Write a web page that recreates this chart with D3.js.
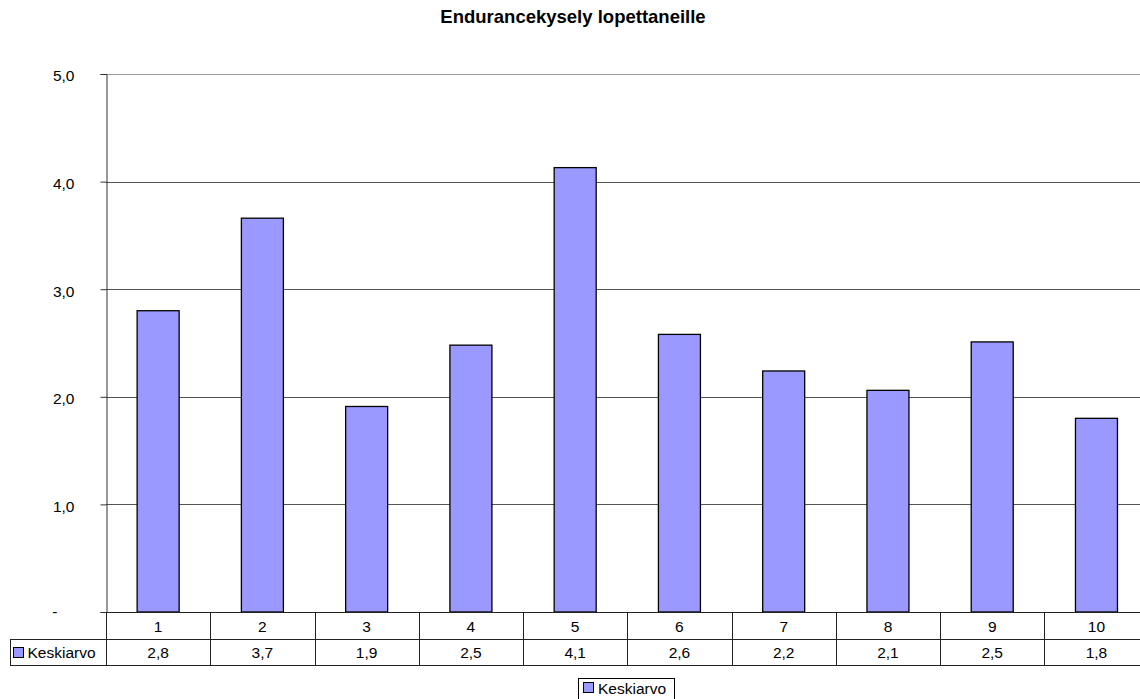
<!DOCTYPE html>
<html><head><meta charset="utf-8">
<script src="https://cdn.jsdelivr.net/npm/d3@7"></script>
<style>body{margin:0;background:#fff;}svg{display:block;font-family:"Liberation Sans",Arial,sans-serif;}</style>
</head><body>
<svg id="c" width="1140" height="699"></svg>
<script>
const title = "Endurancekysely lopettaneille";
const categories = ["1","2","3","4","5","6","7","8","9","10"];
const seriesName = "Keskiarvo";
const values = [2.8, 3.66, 1.91, 2.48, 4.13, 2.58, 2.24, 2.06, 2.51, 1.80];
const yTicks = [0, 1, 2, 3, 4, 5];

(function () {
const svg = d3.select("#c");
const FS = 15.5;
const pL = 106, pR = 1148.6, pT = 74, pB = 612;
const x = d3.scaleBand().domain(categories).range([pL, pR]).paddingInner(0).paddingOuter(0);
const y = d3.scaleLinear().domain([0, 5]).range([pB, pT]);
const fmt = v => v === 0 ? "-" : d3.format(".1f")(v).replace(".", ",");

svg.append("text").attr("x", 573).attr("y", 23).attr("text-anchor", "middle")
  .attr("font-size", 18.5).attr("font-weight", "bold").text(title);

// gridlines
svg.append("g").selectAll("line").data(yTicks.filter(d => d > 0)).join("line")
  .attr("x1", pL).attr("x2", pR).attr("y1", d => Math.round(y(d)) + 0.5).attr("y2", d => Math.round(y(d)) + 0.5)
  .attr("stroke", d => d === 5 ? "#999" : "#555").attr("stroke-width", 1);

// y axis
const yAxis = d3.axisLeft(y).tickValues(yTicks).tickSize(6).tickFormat(fmt);
const gy = svg.append("g").attr("transform", `translate(${pL + 0.5},0)`).call(yAxis);
gy.attr("font-size", FS).attr("font-family", "Liberation Sans, Arial, sans-serif");
gy.select(".domain").attr("stroke", "#333");
gy.selectAll(".tick line").attr("stroke", "#333");
gy.selectAll(".tick text").attr("fill", "#000").attr("x", -32).attr("dy", "0.45em");
gy.selectAll(".tick").filter(d => d === 0).select("text").attr("x", -49).attr("dy", "0.3em");

// bars
const bw = 42;
svg.append("g").selectAll("rect").data(values).join("rect")
  .attr("x", (d, i) => x(categories[i]) + x.bandwidth() / 2 - bw / 2)
  .attr("y", d => y(d)).attr("width", bw).attr("height", d => y(0) - y(d))
  .attr("fill", "#9999FF").attr("stroke", "#000").attr("stroke-width", 1.3);

// table
const r1 = pB, r2 = 639, r3 = 665, tl = 10;
const tg = svg.append("g").attr("stroke", "#222").attr("stroke-width", 1);
tg.append("line").attr("x1", pL).attr("x2", pR).attr("y1", r1 + 0.5).attr("y2", r1 + 0.5);
tg.append("line").attr("x1", tl).attr("x2", pR).attr("y1", r2 + 0.5).attr("y2", r2 + 0.5);
tg.append("line").attr("x1", tl).attr("x2", pR).attr("y1", r3 + 0.5).attr("y2", r3 + 0.5);
tg.append("line").attr("x1", tl + 0.5).attr("x2", tl + 0.5).attr("y1", r2).attr("y2", r3);
tg.append("line").attr("x1", pL + 0.5).attr("x2", pL + 0.5).attr("y1", r1).attr("y2", r3);
tg.selectAll(".v").data(categories.slice(1)).join("line")
  .attr("x1", d => Math.round(x(d)) + 0.5).attr("x2", d => Math.round(x(d)) + 0.5)
  .attr("y1", r1).attr("y2", r3);

svg.append("g").selectAll("text").data(categories).join("text")
  .attr("x", d => x(d) + x.bandwidth() / 2).attr("y", 632).attr("text-anchor", "middle")
  .attr("font-size", FS).text(d => d);
svg.append("g").selectAll("text").data(values).join("text")
  .attr("x", (d, i) => x(categories[i]) + x.bandwidth() / 2).attr("y", 658).attr("text-anchor", "middle")
  .attr("font-size", FS).text(d => fmt(Math.round(d * 10) / 10));
svg.append("rect").attr("x", 13.5).attr("y", 647.5).attr("width", 10).attr("height", 10)
  .attr("fill", "#9999FF").attr("stroke", "#000");
svg.append("text").attr("x", 27.5).attr("y", 658).attr("font-size", FS).text(seriesName);

// legend
svg.append("rect").attr("x", 578.5).attr("y", 678.5).attr("width", 96).attr("height", 25)
  .attr("fill", "#fff").attr("stroke", "#000");
svg.append("rect").attr("x", 583.5).attr("y", 682.5).attr("width", 10).attr("height", 10)
  .attr("fill", "#9999FF").attr("stroke", "#000");
svg.append("text").attr("x", 598).attr("y", 694).attr("font-size", FS).text(seriesName);
})();
</script>
</body></html>
